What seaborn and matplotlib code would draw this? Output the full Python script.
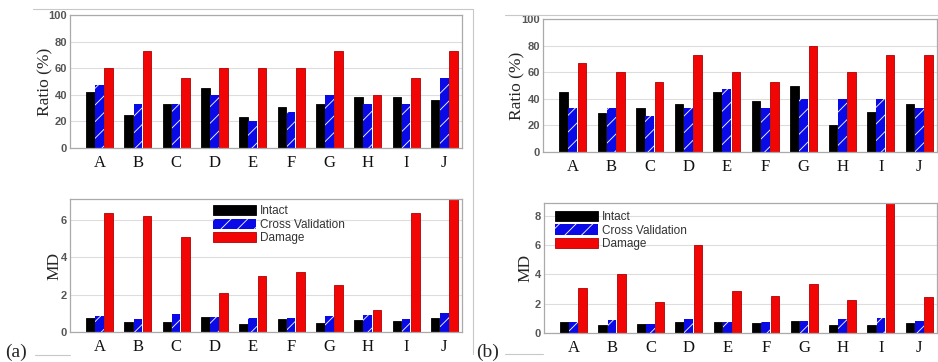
import matplotlib

matplotlib.use("Agg")

import matplotlib.pyplot as plt  # noqa: E402
import pandas as pd  # noqa: E402
import seaborn as sns  # noqa: E402
from matplotlib.lines import Line2D  # noqa: E402
from matplotlib.patches import Patch  # noqa: E402

# ---------------- data ----------------
cases = ["A", "B", "C", "D", "E", "F", "G", "H", "I", "J"]
kinds = ["Intact", "Cross Validation", "Damage"]

ratio_a_intact = [42, 25, 33, 45, 23, 31, 33, 38, 38, 36]
ratio_a_cv = [47, 33, 33, 40, 20, 27, 40, 33, 33, 53]
ratio_a_damage = [60, 73, 53, 60, 60, 60, 73, 40, 53, 73]

md_a_intact = [0.74, 0.55, 0.55, 0.82, 0.45, 0.72, 0.50, 0.62, 0.60, 0.75]
md_a_cv = [0.84, 0.72, 0.97, 0.82, 0.77, 0.77, 0.85, 0.90, 0.72, 1.00]
md_a_damage = [6.38, 6.18, 5.10, 2.10, 2.97, 3.19, 2.49, 1.16, 6.36, 7.50]

ratio_b_intact = [45, 29, 33, 36, 45, 38, 50, 20, 30, 36]
ratio_b_cv = [33, 33, 27, 33, 47, 33, 40, 40, 40, 33]
ratio_b_damage = [67, 60, 53, 73, 60, 53, 80, 60, 73, 73]

md_b_intact = [0.72, 0.57, 0.60, 0.72, 0.72, 0.67, 0.82, 0.55, 0.55, 0.65]
md_b_cv = [0.72, 0.90, 0.60, 0.97, 0.77, 0.77, 0.82, 0.93, 1.00, 0.85]
md_b_damage = [3.06, 4.01, 2.13, 5.98, 2.88, 2.52, 3.33, 2.22, 9.50, 2.45]

colors = {"Intact": "#000000", "Cross Validation": "#0a0ae6", "Damage": "#f20505"}
edges = {"Intact": "#000000", "Cross Validation": "#ffffff", "Damage": "#b00000"}

W, H = 938, 362


def frame(series):
    rows = []
    for kind, vals in zip(kinds, series):
        for c, v in zip(cases, vals):
            rows.append({"case": c, "kind": kind, "value": v})
    return pd.DataFrame(rows)


def px_axes(fig, left, right, top, bottom):
    return fig.add_axes([left / W, 1 - bottom / H, (right - left) / W, (bottom - top) / H])


def draw_panel(ax, series, ylim, yticks, ylabel, label_x, legend_anchor=None):
    df = frame(series)
    sns.barplot(data=df, x="case", y="value", hue="kind", hue_order=kinds,
                palette=colors, width=0.72, gap=0.06, ax=ax, legend=False,
                errorbar=None, saturation=1)
    for cont, kind in zip(ax.containers, kinds):
        for bar in cont:
            bar.set_edgecolor(edges[kind])
            if kind == "Cross Validation":
                bar.set_hatch("//")
                bar.set_linewidth(0)
            else:
                bar.set_linewidth(0.6)
    ax.set_xlim(-0.77, 9.46)
    ax.set_ylim(*ylim)
    ax.set_yticks(yticks)
    ax.set_yticklabels([str(t) for t in yticks], fontfamily="Liberation Sans",
                       fontweight="bold", color="#555555", fontsize=8)
    ax.set_xticks(range(len(cases)))
    ax.set_xticklabels(cases, fontfamily="Liberation Serif", fontsize=12, color="#111111")
    ax.tick_params(axis="x", length=0, pad=5)
    ax.tick_params(axis="y", length=0, pad=2)
    ax.set_xlabel("")
    ax.set_ylabel("")
    ax.grid(axis="y", color="#dddddd", linewidth=0.8)
    ax.set_axisbelow(True)
    for sp in ax.spines.values():
        sp.set_color("#aaaaaa")
        sp.set_linewidth(0.9)
    fig = ax.figure
    pos = ax.get_position()
    fig.text(label_x / W, pos.y0 + pos.height / 2, ylabel, rotation=90,
             ha="center", va="center", fontfamily="Liberation Serif", fontsize=12.5)
    if legend_anchor is not None:
        handles = [Patch(facecolor=colors[k], edgecolor=edges[k],
                         hatch="//" if k == "Cross Validation" else None,
                         linewidth=0 if k == "Cross Validation" else 0.6)
                   for k in kinds]
        leg = ax.legend(handles=handles, labels=kinds, loc="upper left",
                        bbox_to_anchor=legend_anchor, frameon=False,
                        handlelength=3.6, handleheight=0.95, handletextpad=0.35,
                        labelspacing=0.12, borderaxespad=0, borderpad=0,
                        prop={"family": "Liberation Sans", "size": 8.5})
        for t in leg.get_texts():
            t.set_color("#333333")


sns.set_style("white")
plt.rcParams["hatch.linewidth"] = 0.6

fig = plt.figure(figsize=(W / 100, H / 100), dpi=100)

ax1 = px_axes(fig, 70, 462, 15, 148)
draw_panel(ax1, [ratio_a_intact, ratio_a_cv, ratio_a_damage], (0, 100),
           [0, 20, 40, 60, 80, 100], "Ratio (%)", 45)

ax2 = px_axes(fig, 70, 462, 199, 332)
draw_panel(ax2, [md_a_intact, md_a_cv, md_a_damage], (0, 7.11),
           [0, 2, 4, 6], "MD", 54, legend_anchor=(0.365, 0.955))

ax3 = px_axes(fig, 543, 937, 19, 152)
draw_panel(ax3, [ratio_b_intact, ratio_b_cv, ratio_b_damage], (0, 100),
           [0, 20, 40, 60, 80, 100], "Ratio (%)", 517)

ax4 = px_axes(fig, 544, 937, 203, 333)
draw_panel(ax4, [md_b_intact, md_b_cv, md_b_damage], (0, 8.86),
           [0, 2, 4, 6, 8], "MD", 525, legend_anchor=(0.028, 0.94))

# panel letters
fig.text(5 / W, 1 - 352 / H, "(a)", fontfamily="Liberation Serif", fontsize=14,
         ha="left", va="center")
fig.text(476 / W, 1 - 352 / H, "(b)", fontfamily="Liberation Serif", fontsize=14,
         ha="left", va="center")

# thin frame lines around the sub-figures
frame_lines = [
    ((33, 473), (9, 9)),
    ((473, 473), (9, 354)),
    ((35, 70), (355, 355)),
    ((505, 543), (354, 354)),
    ((505, 938), (15, 15)),
]
for xs, ys in frame_lines:
    fig.add_artist(Line2D([x / W for x in xs], [1 - y / H for y in ys],
                          transform=fig.transFigure, color="#c8c8c8", linewidth=0.8))

fig.savefig("out.png", dpi=100)
